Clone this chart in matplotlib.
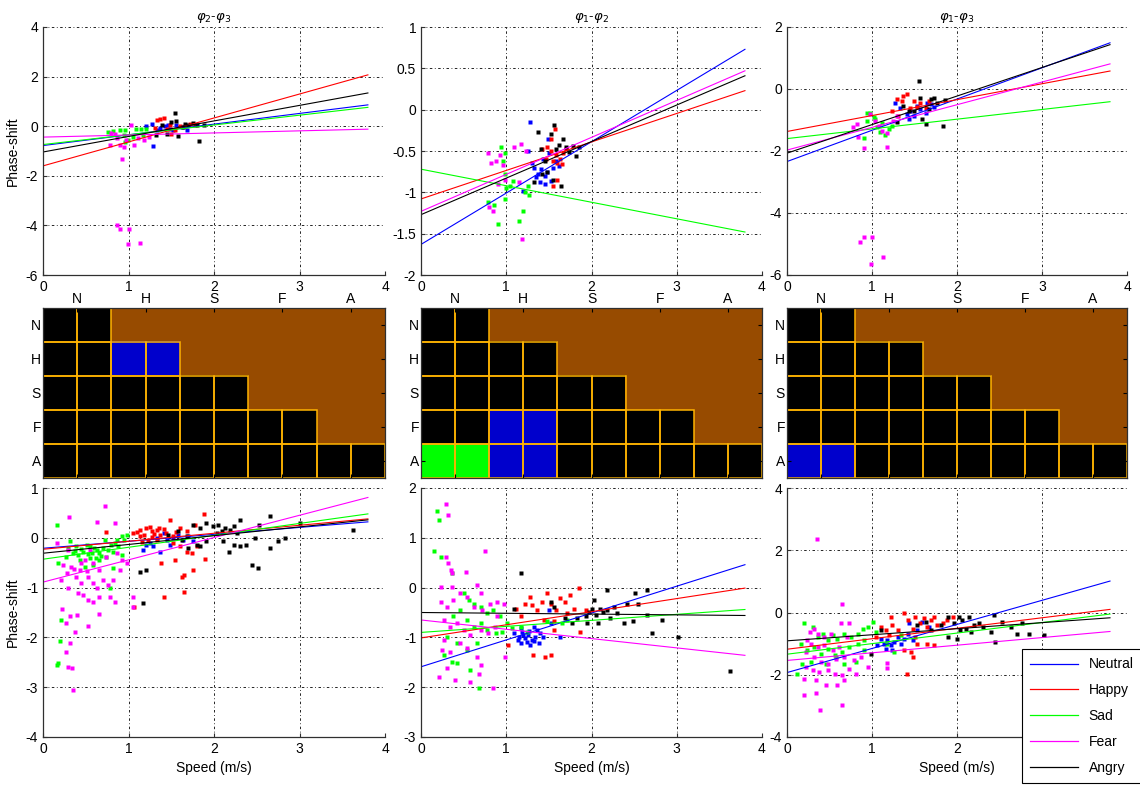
import matplotlib
matplotlib.use('Agg')
import matplotlib.pyplot as plt
from matplotlib.colors import ListedColormap
from matplotlib.patches import Rectangle
from matplotlib.lines import Line2D
from matplotlib.ticker import FormatStrFormatter
import numpy as np

plt.rcParams['font.family'] = ['Liberation Sans', 'DejaVu Sans']
plt.rcParams['font.size'] = 10

#
# Emotions, colours (order used for every group / fit below)
#
EMOTIONS = ['Neutral', 'Happy', 'Sad', 'Fear', 'Angry']
COLORS = ['#0000ff', '#ff0000', '#00ff00', '#ff00ff', '#000000']
ABBR = ['N', 'H', 'S', 'F', 'A']
TITLES = [r'$\varphi_2$-$\varphi_3$', r'$\varphi_1$-$\varphi_2$',
          r'$\varphi_1$-$\varphi_3$']

FIT_X = [0, 3.8]     # regression lines are drawn over this speed range

#
# Top row, panel 1 (phi2 - phi3)
#
T1_NEU = [(1.21, 0.0), (1.27, 0.09), (1.29, -0.78), (1.33, -0.17), (1.37, -0.07),
          (1.43, -0.01), (1.48, -0.11), (1.52, -0.17), (1.56, 0.03), (1.62, -0.04),
          (1.68, -0.17), (1.46, 0.05)]
T1_HAP = [(1.33, 0.23), (1.37, 0.29), (1.41, 0.33), (1.45, -0.11), (1.50, -0.31),
          (1.54, -0.17), (1.60, -0.01), (1.66, -0.01), (1.72, 0.09), (1.78, 0.03),
          (1.48, 0.03), (1.31, -0.08)]
T1_SAD = [(0.76, -0.24), (0.82, -0.21), (0.90, -0.17), (0.96, -0.15), (0.99, -0.57),
          (0.96, -0.64), (1.09, -0.11), (1.15, -0.11), (1.21, -0.11), (1.17, -0.37),
          (1.05, -0.44), (0.95, -0.37)]
T1_FEA = [(0.80, -0.27), (0.84, -0.31), (0.87, -0.47), (0.90, -0.74), (0.92, -1.31),
          (0.95, -0.82), (1.03, 0.05), (1.07, -0.74), (1.11, -0.47), (1.18, -0.57),
          (1.24, -0.44), (0.86, -4.0), (0.90, -4.16), (1.00, -4.13), (0.99, -4.77),
          (1.13, -4.69), (0.97, -0.55), (0.78, -0.74)]
T1_ANG = [(1.32, -0.37), (1.39, 0.03), (1.45, -0.33), (1.50, 0.16), (1.54, 0.53),
          (1.56, 0.20), (1.58, -0.41), (1.64, -0.04), (1.70, 0.03), (1.76, 0.13),
          (1.80, 0.03), (1.83, -0.60), (1.88, 0.05), (1.66, 0.09)]
T1_FIT_Y0 = [-0.78, -1.60, -0.74, -0.44, -1.04]
T1_FIT_Y1 = [0.86, 2.07, 0.76, -0.12, 1.34]

#
# Top row, panel 2 (phi1 - phi2)
#
T2_NEU = [(1.26, -0.50), (1.30, -0.64), (1.33, -0.70), (1.37, -0.78), (1.41, -0.72),
          (1.45, -0.80), (1.48, -0.76), (1.52, -0.86), (1.46, -0.90), (1.40, -0.88),
          (1.55, -0.70), (1.50, -0.52), (1.58, -0.62), (1.62, -0.68), (1.35, -0.82),
          (1.43, -0.60), (1.20, -0.98), (1.28, -0.15), (1.49, -0.36)]
T2_HAP = [(1.42, -0.47), (1.48, -0.45), (1.52, -0.50), (1.55, -0.62), (1.58, -0.55),
          (1.60, -0.65), (1.63, -0.60), (1.66, -0.52), (1.70, -0.47), (1.57, -0.23),
          (1.52, -0.35), (1.60, -0.85), (1.55, -0.92), (1.47, -0.60), (1.65, -0.66)]
T2_SAD = [(0.79, -1.12), (0.86, -1.15), (0.90, -1.38), (0.94, -0.45), (0.96, -0.62),
          (0.98, -0.52), (0.99, -0.78), (1.00, -0.95), (0.99, -1.08), (1.04, -0.92),
          (1.08, -0.86), (1.15, -1.35), (1.20, -1.22), (1.22, -1.00), (1.27, -1.03),
          (1.25, -0.92)]
T2_FEA = [(0.79, -0.53), (0.82, -0.65), (0.80, -1.18), (0.85, -1.22), (0.88, -0.62),
          (0.93, -0.55), (0.96, -0.67), (0.98, -0.85), (1.09, -0.45), (1.15, -0.87),
          (1.17, -0.42), (1.19, -1.56), (1.23, -0.50), (0.90, -0.90)]
T2_ANG = [(1.37, -0.27), (1.41, -0.48), (1.45, -0.62), (1.48, -0.75), (1.52, -0.30),
          (1.56, -0.18), (1.58, -0.48), (1.62, -0.43), (1.66, -0.36), (1.70, -0.45),
          (1.74, -0.51), (1.78, -0.44), (1.82, -0.56), (1.85, -0.45), (1.64, -0.92),
          (1.55, -0.85), (1.32, -0.88), (1.42, -0.78)]
T2_FIT_Y0 = [-1.63, -1.08, -0.72, -1.23, -1.27]
T2_FIT_Y1 = [0.73, 0.23, -1.48, 0.47, 0.41]

#
# Top row, panel 3 (phi1 - phi3)
#
T3_NEU = [(1.27, -0.44), (1.33, -0.60), (1.41, -0.81), (1.45, -0.71), (1.49, -0.87),
          (1.53, -0.55), (1.57, -0.65), (1.63, -0.76), (1.65, -0.44), (1.69, -0.49),
          (1.73, -0.58), (1.43, -0.97)]
T3_HAP = [(1.29, -0.33), (1.35, -0.39), (1.37, -0.22), (1.41, -0.15), (1.45, -0.60),
          (1.53, -0.58), (1.57, -0.44), (1.63, -0.60), (1.67, -0.39), (1.24, -0.71),
          (1.31, -0.87), (1.49, -0.39)]
T3_SAD = [(0.94, -0.76), (0.98, -0.79), (1.04, -0.97), (0.94, -1.03), (0.90, -1.58),
          (1.06, -1.24), (1.15, -1.48), (1.20, -1.29), (1.24, -1.19), (1.09, -1.40),
          (1.02, -0.90), (1.12, -1.11)]
T3_FEA = [(0.78, -1.24), (0.82, -1.13), (0.84, -1.56), (0.91, -1.90), (0.98, -0.81),
          (1.04, -1.03), (1.12, -1.35), (1.18, -1.43), (1.18, -1.88), (1.25, -1.03),
          (1.29, -0.87), (0.86, -4.93), (0.91, -4.77), (1.00, -4.79), (0.99, -5.63),
          (1.13, -5.41), (1.08, -1.19)]
T3_ANG = [(1.29, -1.08), (1.37, -0.55), (1.43, -0.71), (1.49, -0.71), (1.55, 0.26),
          (1.57, -0.30), (1.59, -0.97), (1.63, -1.13), (1.69, -0.33), (1.73, -0.28),
          (1.76, -0.44), (1.84, -1.19), (1.86, -0.36), (1.67, -0.65)]
T3_FIT_Y0 = [-2.34, -1.37, -1.60, -1.97, -2.07]
T3_FIT_Y1 = [1.49, 0.58, -0.41, 0.81, 1.43]

#
# Middle row: significance maps (0 = black, 1 = brown, 2 = blue, 3 = green)
#
M1 = [[0, 0, 1, 1, 1, 1, 1, 1, 1, 1],
      [0, 0, 2, 2, 1, 1, 1, 1, 1, 1],
      [0, 0, 0, 0, 0, 0, 1, 1, 1, 1],
      [0, 0, 0, 0, 0, 0, 0, 0, 1, 1],
      [0, 0, 0, 0, 0, 0, 0, 0, 0, 0]]
M2 = [[0, 0, 1, 1, 1, 1, 1, 1, 1, 1],
      [0, 0, 0, 0, 1, 1, 1, 1, 1, 1],
      [0, 0, 0, 0, 0, 0, 1, 1, 1, 1],
      [0, 0, 2, 2, 0, 0, 0, 0, 1, 1],
      [3, 3, 2, 2, 0, 0, 0, 0, 0, 0]]
M3 = [[0, 0, 1, 1, 1, 1, 1, 1, 1, 1],
      [0, 0, 0, 0, 1, 1, 1, 1, 1, 1],
      [0, 0, 0, 0, 0, 0, 1, 1, 1, 1],
      [0, 0, 0, 0, 0, 0, 0, 0, 1, 1],
      [2, 2, 0, 0, 0, 0, 0, 0, 0, 0]]
MAP_COLORS = ['#000000', '#974b00', '#0000cc', '#00ff00']

#
# Bottom row, panel 1
#
B1_NEU = [(1.17, -0.24), (1.25, -0.11), (1.33, -0.01), (1.41, 0.09), (1.45, -0.04),
          (1.52, -0.01), (1.58, 0.06), (1.64, -0.04), (1.70, 0.03), (1.29, -0.17),
          (1.21, -0.14), (1.37, -0.28), (1.48, -0.14), (1.76, -0.07)]
B1_HAP = [(1.05, 0.09), (1.13, 0.16), (1.21, 0.19), (1.27, 0.13), (1.33, 0.16),
          (1.37, 0.06), (1.41, 0.17), (1.48, 0.35), (1.52, 0.03), (1.60, 0.19),
          (1.68, 0.13), (1.78, 0.26), (1.88, 0.48), (1.13, 0.03), (1.23, -0.04),
          (1.33, -0.04), (1.52, -0.11), (1.68, -0.28), (1.74, -0.31), (1.60, -0.17),
          (1.38, -0.51), (1.41, -1.18), (1.54, -0.44), (1.63, -0.78), (1.65, -0.74),
          (1.75, -0.64), (1.89, -0.43), (1.65, -1.08), (0.74, 0.11), (1.07, -1.38),
          (1.80, -0.17), (1.10, 0.12), (1.18, 0.05), (1.25, 0.22), (1.30, 0.08),
          (1.36, 0.20), (1.44, 0.10), (1.56, 0.12), (1.16, -0.08), (1.28, 0.02)]
B1_SAD = [(0.16, 0.26), (0.31, -0.07), (0.39, -0.17), (0.47, -0.28), (0.55, -0.17),
          (0.63, -0.24), (0.66, -0.31), (0.70, -0.21), (0.74, -0.38), (0.80, -0.14),
          (0.86, -0.04), (0.92, 0.03), (0.98, 0.06), (0.82, -0.28), (0.55, -0.41),
          (0.43, -0.44), (0.35, -0.31), (0.27, -0.38), (0.18, -0.51), (0.59, -0.54),
          (0.49, -0.58), (0.78, -1.01), (0.82, -0.61), (0.21, -1.65), (0.20, -2.07),
          (0.18, -2.52), (0.16, -2.56), (0.66, -0.44), (0.88, -0.17), (0.51, -0.14),
          (0.41, -0.34), (0.72, -0.04), (0.29, -0.21), (0.92, -0.34), (0.45, -0.22),
          (0.53, -0.33), (0.60, -0.20), (0.68, -0.36), (0.76, -0.25), (0.84, -0.10),
          (0.37, -0.26), (0.57, -0.30), (0.62, -0.40), (0.95, -0.05)]
B1_FEA = [(0.30, 0.42), (0.73, 0.64), (0.63, 0.32), (0.84, 0.30), (0.16, -0.11),
          (0.29, -0.24), (0.33, -0.58), (0.43, -0.64), (0.49, -0.44), (0.53, -0.78),
          (0.59, -0.51), (0.66, -0.64), (0.70, -0.85), (0.76, -0.95), (0.82, -0.85),
          (0.90, -0.64), (0.98, -0.51), (0.21, -0.85), (0.29, -1.01), (0.41, -1.11),
          (0.47, -1.15), (0.53, -1.25), (0.59, -1.28), (0.66, -1.18), (0.84, -1.28),
          (0.78, -1.18), (0.22, -1.42), (0.27, -1.72), (0.32, -1.58), (0.40, -1.55),
          (0.37, -1.89), (0.53, -1.77), (0.31, -2.12), (0.27, -2.29), (0.29, -2.59),
          (0.34, -2.62), (0.35, -3.06), (0.66, -1.53), (1.05, -1.38), (0.86, -0.31),
          (1.05, -1.18), (0.39, -0.78), (0.23, -0.54), (0.55, -0.24), (0.92, -0.44),
          (0.74, -0.38), (0.45, -0.91), (0.63, -1.01), (0.36, -0.62), (0.44, -0.50),
          (0.51, -0.66), (0.28, -0.70), (0.58, -0.90)]
B1_ANG = [(1.13, -0.68), (1.21, -0.64), (1.17, -1.30), (1.58, 0.13), (1.68, 0.03),
          (1.76, 0.26), (1.84, 0.19), (1.91, 0.30), (1.99, 0.23), (2.05, 0.26),
          (2.09, 0.13), (2.13, 0.19), (2.19, 0.16), (2.23, 0.23), (2.27, 0.09),
          (2.30, 0.36), (2.17, -0.28), (2.23, -0.14), (2.30, -0.17), (2.38, -0.14),
          (2.44, -0.54), (2.52, -0.61), (2.48, -0.01), (2.53, 0.26), (2.66, 0.43),
          (2.66, -0.21), (2.75, -0.07), (2.83, -0.01), (3.01, 0.30), (3.63, 0.16),
          (1.80, -0.14), (1.91, -0.07), (2.03, 0.09), (2.11, -0.07), (1.84, -0.17),
          (1.70, -0.21), (1.62, -0.04), (1.46, 0.06)]
B1_FIT_Y0 = [-0.21, -0.23, -0.43, -0.89, -0.31]
B1_FIT_Y1 = [0.32, 0.38, 0.48, 0.81, 0.36]

#
# Bottom row, panel 2
#
B2_NEU = [(1.09, -0.92), (1.15, -0.99), (1.18, -0.89), (1.22, -1.02), (1.26, -0.95),
          (1.30, -1.05), (1.34, -0.99), (1.36, -0.85), (1.40, -0.92), (1.28, -1.15),
          (1.24, -1.09), (1.32, -0.79), (1.17, -1.12), (1.38, -1.12), (1.52, -0.72),
          (1.63, -0.99), (1.50, -0.45), (1.17, -0.82), (1.20, -0.96), (1.27, -0.88),
          (1.33, -1.08), (1.14, -1.05), (1.43, -1.00)]
B2_HAP = [(1.02, -1.15), (1.11, -0.42), (1.17, -0.58), (1.22, -0.32), (1.30, -0.35),
          (1.36, -0.45), (1.42, -0.28), (1.48, -0.11), (1.52, -0.32), (1.58, -0.45),
          (1.63, -0.21), (1.69, -0.28), (1.75, -0.15), (1.79, -0.42), (1.85, -0.01),
          (1.87, -0.89), (1.44, -0.65), (1.52, -1.36), (1.31, -1.36), (1.46, -1.39),
          (1.56, -0.85), (1.71, -0.52), (1.93, -0.45), (1.28, -0.18), (1.56, -0.68)]
B2_SAD = [(0.15, 0.74), (0.19, 1.53), (0.21, 1.36), (0.23, 0.62), (0.36, 0.29),
          (0.50, -0.11), (0.56, -0.25), (0.62, -0.32), (0.70, -0.38), (0.77, -0.52),
          (0.85, -0.45), (0.93, -0.58), (1.01, -0.72), (0.46, -0.45), (0.38, -0.58),
          (0.54, -0.65), (0.62, -0.79), (0.70, -0.72), (0.77, -0.85), (0.88, -0.92),
          (0.95, -0.89), (1.07, -0.82), (1.17, -0.79), (1.24, -0.89), (0.31, -0.99),
          (0.42, -1.12), (0.54, -1.26), (0.66, -1.12), (0.27, -1.36), (0.36, -1.49),
          (0.42, -1.51), (0.58, -1.66), (0.68, -2.01), (1.65, -0.72), (1.71, -0.65),
          (1.48, -0.68)]
B2_FEA = [(0.29, 1.68), (0.32, 1.46), (0.75, 0.74), (0.29, 0.62), (0.32, 0.50),
          (0.35, 0.36), (0.53, 0.32), (0.36, 0.29), (0.23, 0.02), (0.36, 0.02),
          (0.66, 0.05), (0.23, -0.28), (0.31, -0.38), (0.38, -0.25), (0.46, -0.11),
          (0.54, -0.18), (0.62, -0.38), (0.72, -0.45), (0.81, -0.32), (0.89, -0.28),
          (0.97, -0.32), (0.27, -0.65), (0.34, -0.79), (0.42, -0.72), (0.50, -0.85),
          (0.58, -0.95), (0.70, -0.85), (0.79, -0.92), (0.87, -0.79), (0.27, -1.05),
          (0.25, -1.26), (0.34, -1.29), (0.46, -1.12), (0.54, -1.22), (0.66, -1.39),
          (0.70, -1.56), (0.21, -1.79), (0.31, -1.62), (0.40, -1.86), (0.57, -1.89),
          (0.68, -1.74), (0.85, -2.01), (0.89, -0.57), (0.99, -1.39), (0.70, -0.11)]
B2_ANG = [(1.17, 0.29), (1.09, -0.42), (1.52, -0.28), (1.56, -0.38), (1.69, -0.62),
          (1.77, -0.72), (1.83, -0.62), (1.93, -0.58), (1.97, -0.48), (2.01, -0.42),
          (2.05, -0.55), (2.10, -0.42), (2.14, -0.48), (2.18, -0.05), (2.26, -0.38),
          (2.30, -0.52), (2.03, -0.25), (1.95, -0.72), (2.08, -0.72), (2.22, -0.62),
          (2.42, -0.32), (2.51, -0.11), (2.55, -0.32), (2.65, -0.05), (2.38, -0.72),
          (2.49, -0.68), (2.65, -0.55), (2.71, -0.92), (2.83, -0.65), (3.02, -0.99),
          (3.63, -1.67), (2.18, -0.45)]
B2_FIT_Y0 = [-1.59, -1.01, -0.90, -0.65, -0.50]
B2_FIT_Y1 = [0.46, -0.01, -0.44, -1.36, -0.56]

#
# Bottom row, panel 3
#
B3_NEU = [(1.10, -0.84), (1.14, -1.00), (1.18, -0.89), (1.22, -1.05), (1.26, -0.95),
          (1.30, -0.78), (1.34, -1.00), (1.38, -0.84), (1.42, -0.68), (1.48, -0.89),
          (1.53, -0.57), (1.59, -0.30), (1.24, -1.21), (1.16, -1.16), (1.67, -0.46),
          (1.06, -1.05), (1.44, -0.35)]
B3_HAP = [(1.05, -0.78), (1.10, -0.46), (1.16, -0.57), (1.20, -0.73), (1.24, -0.41),
          (1.30, -0.57), (1.38, -0.03), (1.42, -0.25), (1.48, -0.52), (1.51, -0.14),
          (1.57, -0.35), (1.61, -0.19), (1.65, -0.46), (1.69, -0.25), (1.73, -0.14),
          (1.77, -0.41), (1.83, -0.35), (1.88, -0.25), (1.95, -0.14), (1.38, -1.21),
          (1.46, -1.27), (1.48, -1.43), (1.41, -1.99), (1.53, -1.00), (1.65, -1.00),
          (1.73, -1.05), (1.22, -0.14), (1.51, -0.78)]
B3_SAD = [(0.20, -0.33), (0.30, -0.46), (0.36, -0.78), (0.42, -0.68), (0.48, -0.89),
          (0.54, -0.73), (0.59, -0.84), (0.67, -0.68), (0.75, -0.78), (0.83, -0.68),
          (0.89, -0.52), (0.95, -0.46), (1.01, -0.30), (1.05, -0.62), (0.16, -1.00),
          (0.24, -1.21), (0.32, -1.11), (0.40, -1.32), (0.48, -1.16), (0.56, -1.37),
          (0.65, -1.27), (0.73, -1.11), (0.83, -1.00), (0.91, -0.89), (0.18, -1.64),
          (0.28, -1.59), (0.46, -1.64), (0.58, -1.43), (0.67, -1.64), (0.81, -1.59),
          (0.91, -1.21), (0.12, -1.97), (1.18, -1.00), (1.26, -1.27), (1.34, -0.73)]
B3_FEA = [(0.35, 2.35), (0.65, 0.26), (0.32, -0.52), (0.27, -0.62), (0.36, -0.68),
          (0.44, -0.78), (0.52, -0.68), (0.63, -0.35), (0.73, -0.35), (0.28, -1.00),
          (0.36, -1.11), (0.44, -1.05), (0.54, -1.21), (0.61, -1.11), (0.22, -1.27),
          (0.32, -1.43), (0.40, -1.59), (0.48, -1.64), (0.58, -1.48), (0.67, -1.43),
          (0.79, -1.54), (0.87, -1.43), (0.22, -1.75), (0.30, -1.86), (0.38, -1.91),
          (0.48, -1.86), (0.56, -1.97), (0.65, -2.02), (0.73, -1.80), (0.81, -1.97),
          (0.20, -2.13), (0.34, -2.18), (0.46, -2.34), (0.59, -2.34), (0.67, -2.18),
          (0.20, -2.66), (0.34, -2.59), (0.65, -2.96), (0.39, -3.13), (1.18, -1.62),
          (1.18, -1.77), (0.95, -1.75), (0.71, -0.78), (0.24, -0.89)]
B3_ANG = [(1.10, -0.57), (0.99, -1.32), (1.53, -0.41), (1.63, -0.30), (1.69, -0.57),
          (1.81, -0.41), (1.89, -0.78), (1.96, -0.35), (2.02, -0.14), (2.06, -0.25),
          (2.10, -0.52), (2.14, -0.14), (2.20, -0.41), (2.26, -0.35), (2.30, -0.46),
          (2.04, -0.57), (2.16, -0.62), (2.40, -0.64), (2.45, -0.95), (2.43, -0.09),
          (2.53, -0.30), (2.63, -0.46), (2.71, -0.68), (2.77, -0.35), (2.85, -0.68),
          (3.02, -0.73), (2.00, -0.84), (1.89, -0.14)]
B3_FIT_Y0 = [-1.93, -1.18, -1.34, -1.54, -0.91]
B3_FIT_Y1 = [1.01, 0.10, -0.05, -0.61, -0.17]

TOP_YLIM = [(-6, 4), (-2, 1), (-6, 2)]
TOP_YSTEP = [2, 0.5, 2]
BOT_YLIM = [(-4, 1), (-3, 2), (-4, 4)]
BOT_YSTEP = [1, 1, 2]

#
# Layout in pixels of the original figure (1140 x 785)
#
W, H = 1140, 785
COL_X = [(43, 385), (421, 762), (787, 1127)]
ROW_Y = [(27, 275), (308, 478), (488, 737)]

GRID_LS = (0, (3, 3, 1, 3))
SPINE_C = '#303030'


def make_ax(fig, c, r):
    x0, x1 = COL_X[c]
    y0, y1 = ROW_Y[r]
    return fig.add_axes([x0 / W, (H - y1) / H, (x1 - x0) / W, (y1 - y0) / H])


def scatter_panel(ax, groups, fy0, fy1, ylim, ystep):
    for pts, col in zip(groups, COLORS):
        pts = np.array(pts)
        ax.plot(pts[:, 0], pts[:, 1], 's', color=col, ms=2.4, mec='none')
    for a, b, col in zip(fy0, fy1, COLORS):
        ax.plot(FIT_X, [a, b], color=col, lw=0.8)
    ax.set_xlim(0, 4)
    ax.set_ylim(*ylim)
    ax.set_xticks(np.arange(0, 5, 1))
    ax.set_yticks(np.arange(ylim[0], ylim[1] + ystep / 2, ystep))
    ax.yaxis.set_major_formatter(FormatStrFormatter('%g'))
    ax.grid(True, color='black', lw=0.6, ls=GRID_LS)
    for s in ['top', 'right']:
        ax.spines[s].set_visible(False)
    for s in ['left', 'bottom']:
        ax.spines[s].set_color(SPINE_C)
        ax.spines[s].set_linewidth(0.9)
    ax.tick_params(direction='in', length=3, width=0.8, colors=SPINE_C,
                   labelcolor='black', labelsize=10)


def map_panel(ax, codes):
    codes = np.array(codes)
    ax.imshow(codes, cmap=ListedColormap(MAP_COLORS), vmin=-0.5, vmax=3.5,
              aspect='auto', extent=(0, 10, 5, 0), interpolation='nearest')
    nr, nc = codes.shape
    for i in range(nr):
        for j in range(nc):
            if codes[i, j] != 1:
                ax.add_patch(Rectangle((j, i), 1, 1, fill=False,
                                       ec='#ffb300', lw=1.1))
    ax.set_xlim(0, 10)
    ax.set_ylim(5, 0)
    ax.set_xticks(np.arange(1, 10, 2))
    ax.set_xticklabels(ABBR)
    ax.set_yticks(np.arange(0.5, 5, 1))
    ax.set_yticklabels(ABBR)
    ax.tick_params(direction='in', length=3, width=0.8, top=True, bottom=True,
                   left=True, right=True, labeltop=True, labelbottom=False,
                   labelsize=10, pad=1.5)
    for s in ax.spines.values():
        s.set_color(SPINE_C)
        s.set_linewidth(0.9)


fig = plt.figure(figsize=(W / 100, H / 100), dpi=100)

top_groups = [[T1_NEU, T1_HAP, T1_SAD, T1_FEA, T1_ANG],
              [T2_NEU, T2_HAP, T2_SAD, T2_FEA, T2_ANG],
              [T3_NEU, T3_HAP, T3_SAD, T3_FEA, T3_ANG]]
top_fits = [(T1_FIT_Y0, T1_FIT_Y1), (T2_FIT_Y0, T2_FIT_Y1), (T3_FIT_Y0, T3_FIT_Y1)]
bot_groups = [[B1_NEU, B1_HAP, B1_SAD, B1_FEA, B1_ANG],
              [B2_NEU, B2_HAP, B2_SAD, B2_FEA, B2_ANG],
              [B3_NEU, B3_HAP, B3_SAD, B3_FEA, B3_ANG]]
bot_fits = [(B1_FIT_Y0, B1_FIT_Y1), (B2_FIT_Y0, B2_FIT_Y1), (B3_FIT_Y0, B3_FIT_Y1)]
maps = [M1, M2, M3]

for c in range(3):
    ax = make_ax(fig, c, 0)
    scatter_panel(ax, top_groups[c], top_fits[c][0], top_fits[c][1],
                  TOP_YLIM[c], TOP_YSTEP[c])
    ax.set_title(TITLES[c], fontsize=9.5, pad=5)
    if c == 0:
        ax.set_ylabel('Phase-shift')

    ax = make_ax(fig, c, 2)
    scatter_panel(ax, bot_groups[c], bot_fits[c][0], bot_fits[c][1],
                  BOT_YLIM[c], BOT_YSTEP[c])
    ax.set_xlabel('Speed (m/s)')
    if c == 0:
        ax.set_ylabel('Phase-shift')

    ax = make_ax(fig, c, 1)
    map_panel(ax, maps[c])

handles = [Line2D([], [], color=col, lw=0.9) for col in COLORS]
leg = fig.legend(handles, EMOTIONS, loc='lower left',
                 bbox_to_anchor=(1022 / W, 2 / H), borderaxespad=0,
                 fancybox=False, edgecolor='black', framealpha=1,
                 handlelength=3.4, labelspacing=0.85, borderpad=0.6,
                 fontsize=10)
leg.get_frame().set_linewidth(0.8)

fig.savefig('out.png', dpi=100)
